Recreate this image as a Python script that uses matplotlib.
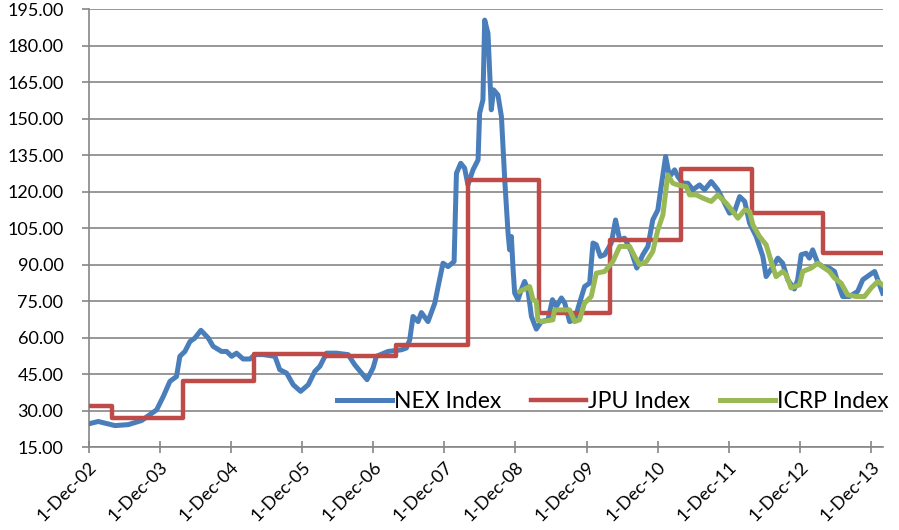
import numpy as np
import pandas as pd
import matplotlib
matplotlib.use("Agg")
import matplotlib.pyplot as plt
import matplotlib.dates as mdates
from matplotlib.ticker import FuncFormatter, FormatStrFormatter

# NEX Index
nex_dates = [
    "2002-12-01", "2003-01-20", "2003-04-16", "2003-06-23", "2003-08-31", "2003-10-12",
    "2003-11-16", "2003-12-20", "2004-01-23", "2004-02-26", "2004-03-14", "2004-04-09",
    "2004-05-05", "2004-05-30", "2004-06-30", "2004-08-07", "2004-09-01", "2004-10-14",
    "2004-11-09", "2004-12-05", "2004-12-30", "2005-02-02", "2005-03-09", "2005-04-03",
    "2005-05-16", "2005-07-15", "2005-08-09", "2005-09-13", "2005-10-17", "2005-11-24",
    "2006-01-02", "2006-02-05", "2006-03-03", "2006-04-06", "2006-05-27", "2006-07-26",
    "2006-08-29", "2006-10-03", "2006-10-31", "2006-12-01", "2006-12-18", "2007-02-16",
    "2007-04-26", "2007-05-21", "2007-06-07", "2007-06-24", "2007-07-20", "2007-08-06",
    "2007-09-09", "2007-10-14", "2007-10-31", "2007-11-25", "2007-12-21", "2008-01-21",
    "2008-02-02", "2008-02-24", "2008-03-15", "2008-04-01", "2008-04-27", "2008-05-23",
    "2008-05-31", "2008-06-17", "2008-06-26", "2008-07-13", "2008-07-30", "2008-08-11",
    "2008-09-02", "2008-09-20", "2008-10-07", "2008-10-24", "2008-11-01", "2008-11-10",
    "2008-11-18", "2008-11-27", "2008-12-14", "2008-12-31", "2009-01-17", "2009-02-03",
    "2009-02-21", "2009-03-18", "2009-04-13", "2009-05-17", "2009-06-09", "2009-06-29",
    "2009-07-25", "2009-08-11", "2009-09-05", "2009-10-01", "2009-10-26", "2009-11-21",
    "2009-12-17", "2010-01-03", "2010-01-20", "2010-02-10", "2010-03-04", "2010-04-07",
    "2010-04-29", "2010-05-20", "2010-06-14", "2010-07-19", "2010-08-16", "2010-09-16",
    "2010-10-12", "2010-11-06", "2010-12-02", "2010-12-19", "2011-01-11", "2011-01-31",
    "2011-02-26", "2011-03-15", "2011-04-09", "2011-05-05", "2011-05-31", "2011-07-04",
    "2011-07-30", "2011-09-02", "2011-10-06", "2011-11-01", "2011-12-05", "2011-12-31",
    "2012-01-26", "2012-02-21", "2012-03-17", "2012-04-20", "2012-05-24", "2012-06-10",
    "2012-07-14", "2012-08-09", "2012-09-03", "2012-09-29", "2012-11-02", "2012-11-19",
    "2012-12-07", "2013-01-01", "2013-01-18", "2013-02-04", "2013-03-02", "2013-03-28",
    "2013-05-01", "2013-05-27", "2013-06-22", "2013-07-08", "2013-08-12", "2013-09-23",
    "2013-10-19", "2013-11-23", "2013-12-19", "2014-01-04", "2014-01-29",
]
nex_values = [
    24.5, 25.5, 23.8, 24.2, 25.9, 28.3,
    30.3, 35.8, 42.0, 44.0, 52.3, 54.3,
    58.4, 59.8, 63.0, 59.8, 56.4, 54.3,
    54.3, 52.3, 53.6, 51.2, 51.2, 53.0,
    53.0, 52.3, 46.8, 45.4, 40.6, 37.9,
    40.6, 46.1, 48.2, 53.6, 53.6, 53.0,
    48.8, 45.4, 42.7, 47.5, 52.3, 54.3,
    55.0, 55.7, 59.0, 68.7, 66.6, 70.3,
    66.6, 74.2, 81.0, 90.6, 89.2, 91.3,
    127.6, 131.7, 129.7, 122.8, 129.0, 133.1,
    152.3, 157.8, 190.6, 185.2, 153.7, 161.9,
    159.8, 150.9, 124.9, 103.0, 96.1, 101.6,
    89.2, 78.3, 75.6, 79.7, 83.1, 79.7,
    68.7, 63.5, 66.6, 67.3, 75.6, 72.8,
    76.3, 74.2, 66.6, 67.3, 74.2, 81.0,
    82.4, 98.9, 98.2, 93.4, 94.1, 98.9,
    108.4, 100.2, 100.9, 95.4, 88.6, 94.1,
    97.5, 108.4, 112.5, 122.1, 134.5, 126.2,
    129.0, 126.2, 123.5, 123.5, 120.8, 122.8,
    120.8, 124.2, 120.8, 116.7, 111.2, 111.9,
    118.0, 116.0, 107.1, 101.6, 93.4, 85.1,
    89.2, 92.7, 90.6, 83.8, 80.0, 83.8,
    94.1, 94.7, 92.7, 96.1, 90.6, 89.2,
    88.6, 87.2, 80.4, 76.9, 76.9, 79.0,
    83.8, 85.8, 87.2, 83.8, 78.3,
]

# JPU Index (yearly steps)
jpu_dates = [
    "2002-12-01", "2003-03-31", "2004-03-31", "2005-03-31", "2006-03-31", "2007-03-31",
    "2008-03-31", "2009-03-31", "2010-03-31", "2011-03-31", "2012-03-31", "2013-03-31",
    "2014-01-31",
]
jpu_values = [32.0, 27.0, 42.0, 53.4, 52.3, 57.0, 125.0, 70.0, 100.2, 129.5, 111.2, 94.7, 94.7]

# ICRP Index
icrp_dates = [
    "2008-12-23", "2009-02-12", "2009-03-01", "2009-03-18", "2009-03-26", "2009-04-13",
    "2009-06-11", "2009-06-20", "2009-09-05", "2009-10-01", "2009-10-26", "2009-11-21",
    "2009-12-25", "2010-01-20", "2010-03-04", "2010-04-15", "2010-05-20", "2010-07-10",
    "2010-08-05", "2010-08-30", "2010-10-04", "2010-11-06", "2010-12-02", "2010-12-28",
    "2011-01-22", "2011-02-17", "2011-03-15", "2011-04-27", "2011-05-14", "2011-06-17",
    "2011-07-21", "2011-09-02", "2011-10-06", "2011-11-18", "2011-12-22", "2012-01-17",
    "2012-02-21", "2012-03-17", "2012-04-03", "2012-05-07", "2012-06-10", "2012-07-06",
    "2012-07-31", "2012-09-03", "2012-09-21", "2012-10-16", "2012-11-28", "2012-12-15",
    "2013-01-27", "2013-03-02", "2013-04-05", "2013-05-01", "2013-05-27", "2013-06-30",
    "2013-08-03", "2013-09-15", "2013-10-28", "2013-12-01", "2014-01-04", "2014-01-29",
]
icrp_values = [
    79.0, 81.0, 75.6, 74.9, 67.3, 66.6,
    67.3, 71.4, 71.4, 66.6, 67.3, 74.2,
    76.9, 86.5, 87.2, 91.3, 97.5, 97.5,
    93.4, 90.0, 91.3, 95.4, 104.3, 110.5,
    126.9, 123.5, 122.8, 122.1, 118.7, 118.7,
    117.4, 116.0, 118.7, 115.3, 111.9, 109.1,
    112.5, 111.9, 106.4, 101.6, 98.2, 91.3,
    85.1, 87.2, 85.8, 80.4, 81.7, 87.2,
    88.6, 90.6, 88.6, 87.2, 84.5, 82.4,
    77.6, 76.9, 76.9, 80.4, 83.1, 81.7,
]

tick_dates = pd.date_range("2002-12-01", "2013-12-01", freq="12MS")
y_ticks = np.arange(15, 196, 15)

plt.rcParams['font.family'] = ['Lato', 'DejaVu Sans']

fig = plt.figure(figsize=(8.99, 5.30), dpi=100)
ax = fig.add_axes([88.5 / 899, 1 - 447 / 530, (883 - 88.5) / 899, (447 - 9.4) / 530])

ax.plot(pd.to_datetime(nex_dates), nex_values, color='#4A7EBB', lw=3.6,
        solid_joinstyle='round', label='NEX Index', zorder=3)
ax.plot(pd.to_datetime(jpu_dates), jpu_values, color='#BE4B48', lw=3.2,
        drawstyle='steps-post', label='JPU Index', zorder=4)
ax.plot(pd.to_datetime(icrp_dates), icrp_values, color='#98B954', lw=3.6,
        solid_joinstyle='round', label='ICRP Index', zorder=5)

ax.set_xlim(pd.Timestamp("2002-12-01"), pd.Timestamp("2014-01-31"))
ax.set_ylim(15, 195)
ax.set_yticks(y_ticks)
ax.yaxis.set_major_formatter(FormatStrFormatter('%.2f'))
ax.set_xticks(tick_dates)
ax.xaxis.set_major_formatter(FuncFormatter(
    lambda v, p: "{}-{}".format(mdates.num2date(v).day, mdates.num2date(v).strftime('%b-%y'))))

ax.grid(axis='y', color='#868686', lw=1.2)
ax.set_axisbelow(True)
for s in ['top', 'right']:
    ax.spines[s].set_visible(False)
for s in ['left', 'bottom']:
    ax.spines[s].set_color('#868686')
    ax.spines[s].set_linewidth(1.2)

ax.tick_params(axis='y', direction='out', length=5, width=1.2, color='#868686',
               labelsize=13, pad=13)
ax.tick_params(axis='x', direction='inout', length=9, width=1.2, color='#868686',
               labelsize=13, pad=4)
for lab in ax.get_xticklabels():
    lab.set_rotation(45)
    lab.set_ha('right')
    lab.set_va('top')
    lab.set_rotation_mode('anchor')

ax.legend(loc='center', bbox_to_anchor=(0.66, 0.105), ncol=3, frameon=False,
          fontsize=16.5, handlelength=2.4, handletextpad=0.1, columnspacing=1.3,
          borderaxespad=0, borderpad=0)

fig.savefig("out.png", dpi=100)
